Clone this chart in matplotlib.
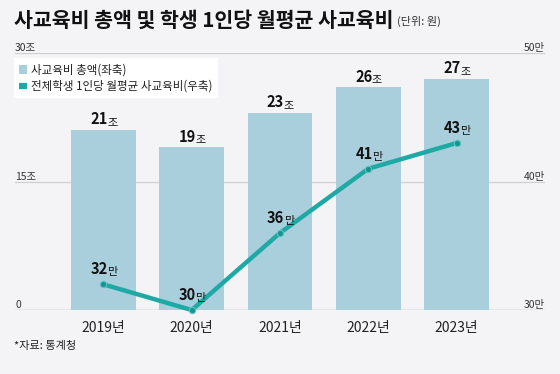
import matplotlib
matplotlib.use("Agg")
import matplotlib.pyplot as plt
from matplotlib.patches import Patch
from matplotlib.lines import Line2D

plt.rcParams['font.family'] = ['Noto Sans CJK KR', 'DejaVu Sans']

# data
years = ['2019년', '2020년', '2021년', '2022년', '2023년']
total = [21, 19, 23, 26, 27]          # 조 원
per_student = [32, 30, 36, 41, 43]    # 만 원
left_ticks = [0, 15, 30]
left_labels = ['0', '15조', '30조']
right_ticks = [30, 40, 50]
right_labels = ['30만', '40만', '50만']

bg = '#f4f4f6'
bar_col = '#a9cfdd'
line_col = '#1fa9a4'

fig = plt.figure(figsize=(5.6, 3.74), dpi=100, facecolor=bg)
ax = fig.add_axes([0.027, 0.171, 0.946, 0.687])
ax.set_facecolor(bg)
x = list(range(len(years)))
ax.bar(x, total, width=0.73, color=bar_col, zorder=2)
ax.set_xlim(-1.0, 5.0)
ax.set_ylim(0, 30)
for s in ax.spines.values():
    s.set_visible(False)
ax.set_xticks([])
ax.set_yticks([])
for t in left_ticks:
    ax.axhline(t, color='#888888' if t == 0 else '#cfcfcf', lw=0.9, zorder=1)

ax2 = ax.twinx()
ax2.set_ylim(30, 50)
for s in ax2.spines.values():
    s.set_visible(False)
ax2.set_yticks([])
ax2.plot(x, per_student, color=line_col, lw=3.2, zorder=5, clip_on=False,
         marker='o', ms=4.5, mfc='#17938f', mec='#5cc4c0', mew=0.8)

# axis labels drawn above gridlines
tr = ax.get_yaxis_transform()
for t, lab in zip(left_ticks, left_labels):
    ax.text(0.0, t, lab, transform=tr, ha='left', va='bottom', fontsize=7.5,
            color='#333333')
tr2 = ax2.get_yaxis_transform()
for t, lab in zip(right_ticks, right_labels):
    ax2.text(1.0, t, lab, transform=tr2, ha='right', va='bottom', fontsize=7.5,
             color='#333333')

# year labels
for i, y in enumerate(years):
    ax.text(i, -1.3, y, ha='center', va='top', fontsize=10, color='#222222')

def value_label(axis, xi, yi, num, unit, dy):
    axis.annotate(str(num), (xi, yi), xytext=(3, dy), textcoords='offset points',
                  ha='right', va='bottom', fontsize=10.5, fontweight='bold',
                  color='#111111', zorder=6)
    axis.annotate(unit, (xi, yi), xytext=(2.6, dy), textcoords='offset points',
                  ha='left', va='bottom', fontsize=8, color='#111111', zorder=6)

for i, v in enumerate(total):
    value_label(ax, i, v, v, '조', 2)
for i, v in enumerate(per_student):
    value_label(ax2, i, v, v, '만', 5)

# legend
handles = [Patch(facecolor=bar_col, edgecolor='none'),
           Line2D([0], [0], color=line_col, lw=4.5, solid_capstyle='butt')]
leg = ax2.legend(handles, ['사교육비 총액(좌축)', '전체학생 1인당 월평균 사교육비(우축)'],
                 loc='upper left', bbox_to_anchor=(-0.002, 0.98), frameon=True,
                 fancybox=False, facecolor='white', edgecolor='none', framealpha=1,
                 fontsize=8.3, handlelength=0.7, handleheight=0.8, handletextpad=0.35,
                 labelspacing=0.3, borderpad=0.45, borderaxespad=0.0)
leg.set_zorder(10)
for t in leg.get_texts():
    t.set_color('#222222')

# title
fig.text(0.025, 1 - 20 / 374, '사교육비 총액 및 학생 1인당 월평균 사교육비',
         ha='left', va='center', fontsize=14.8, fontweight='bold', color='#111111')
fig.text(0.709, 1 - 21 / 374, '(단위: 원)', ha='left', va='center',
         fontsize=8, color='#333333')

fig.text(0.025, 1 - 346 / 374, '*자료: 통계청', ha='left', va='center',
         fontsize=8, color='#222222')

fig.savefig('out.png', dpi=100, facecolor=bg)
